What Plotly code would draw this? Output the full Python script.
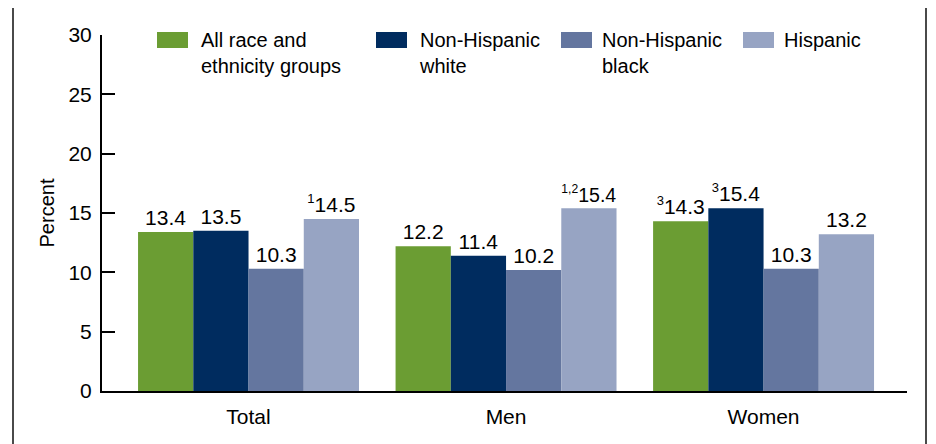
import plotly.graph_objects as go

categories = ["Total", "Men", "Women"]
series_names = ["All race and<br>ethnicity groups", "Non-Hispanic<br>white", "Non-Hispanic<br>black", "Hispanic"]
all_groups = [13.4, 12.2, 14.3]
nh_white = [13.5, 11.4, 15.4]
nh_black = [10.3, 10.2, 10.3]
hispanic = [14.5, 15.4, 13.2]
all_notes = ["", "", "3"]
white_notes = ["", "", "3"]
black_notes = ["", "", ""]
hisp_notes = ["1", "1,2", ""]
y_ticks = [0, 5, 10, 15, 20, 25, 30]

colors = ["#6B9D33", "#002C5F", "#64769F", "#97A4C3"]
FONT = "Liberation Sans, Arial, sans-serif"
TXT = "#000"

# page offset (default body margin) compensation
OFF = 8
W, H = 936 - OFF, 444 - OFF
# plot area in reference-pixel coordinates
X0, X1, Y0, Y1 = 102, 907, 35, 391
PW, PH = X1 - X0, Y1 - Y0
L, T = X0 - OFF, Y0 - OFF
R, B = W - L - PW, H - T - PH


def px(x):
    return (x - X0) / PW


def py(y):
    return (Y1 - y) / PH


def label(v, n):
    sup = f"<sup><span style='font-size:13px'>{n}</span></sup>" if n else ""
    return sup + f"{v:.1f}"


fig = go.Figure()
for name, vals, notes, col in zip(series_names,
                                  [all_groups, nh_white, nh_black, hispanic],
                                  [all_notes, white_notes, black_notes, hisp_notes],
                                  colors):
    fig.add_trace(go.Bar(
        x=categories, y=vals, name=name, marker=dict(color=col, line=dict(width=0)),
        text=[label(v, n) for v, n in zip(vals, notes)],
        textposition="outside", textfont=dict(size=21, color=TXT, family=FONT),
        cliponaxis=False, showlegend=False,
    ))

shapes = []
annotations = []
sw_x = [157, 376, 561, 743]
tx_x = [200, 418, 601, 783]
for name, col, sx, tx in zip(series_names, colors, sw_x, tx_x):
    shapes.append(dict(type="rect", xref="paper", yref="paper",
                       x0=px(sx), x1=px(sx + 31), y0=py(48), y1=py(32),
                       fillcolor=col, line=dict(width=0)))
    annotations.append(dict(xref="paper", yref="paper", x=px(tx - 1), y=py(27),
                            xanchor="left", yanchor="top", align="left",
                            text=name, showarrow=False,
                            font=dict(size=20, color=TXT, family=FONT)))

# outer frame
shapes.append(dict(type="rect", xref="paper", yref="paper",
                   x0=px(13), x1=px(926), y0=py(470), y1=py(7),
                   line=dict(color="#4a4a4a", width=2), fillcolor="rgba(0,0,0,0)", layer="below"))

fig.update_layout(
    width=W, height=H,
    margin=dict(l=L, r=R, t=T, b=B, pad=0, autoexpand=False),
    paper_bgcolor="white", plot_bgcolor="white",
    barmode="group", bargap=0.142, bargroupgap=0,
    font=dict(family=FONT, size=20, color=TXT),
    shapes=shapes, annotations=annotations,
    xaxis=dict(range=[-0.569, 2.557], showline=True, linecolor="black", linewidth=2,
               ticks="", showgrid=False, tickfont=dict(size=21, color=TXT),
               automargin=False, ticklabelstandoff=6, fixedrange=True),
    yaxis=dict(range=[0, 30], tickvals=y_ticks, showline=True, linecolor="black", linewidth=2,
               ticks="inside", ticklen=13, tickwidth=2, tickcolor="black",
               showgrid=False, zeroline=False, tickfont=dict(size=21, color=TXT),
               automargin=False, ticklabelstandoff=4,
               title=dict(text="Percent", font=dict(size=20, color=TXT), standoff=8)),
)

fig.write_html("out.html")
